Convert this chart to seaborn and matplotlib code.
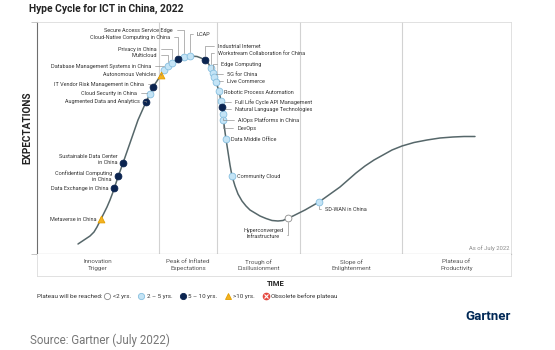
import matplotlib
matplotlib.use('Agg')
import matplotlib.pyplot as plt
from matplotlib.lines import Line2D
import pandas as pd
import seaborn as sns

sns.set_theme(style='white')
plt.rcParams['font.family'] = ['Roboto', 'DejaVu Sans']

# hype curve (time, expectations, arbitrary units)
curve_time = [41, 47, 53, 57, 60, 64, 67, 70, 73, 76, 81, 86, 93, 101, 109, 113,
              116, 120, 124, 127, 131, 135, 141, 147, 153, 160, 164, 168, 171,
              174, 176, 178, 180, 182, 184, 185, 186, 186.5, 188, 189, 191, 193,
              195, 198, 201, 205, 209, 213, 218, 223, 229, 235, 241, 246, 251,
              256, 262, 268, 275, 282, 289, 296, 303, 311, 319, 328, 337, 346,
              355, 365, 377, 390, 403, 416, 427, 438]
curve_expect = [10, 14, 18, 22, 27, 35, 41, 47, 54, 62, 77, 91, 111, 134, 152, 160,
                167, 173, 179, 184, 188, 191, 195, 197, 198, 197.5, 196, 194, 191,
                186, 181, 175, 169, 163, 153, 147, 140, 134, 122, 115, 102, 89,
                78, 68, 60, 53, 48, 44, 41, 38, 35.5, 33.5, 33, 33.5, 36,
                38, 41, 44, 48, 52, 57, 62, 67, 74, 81, 88, 94, 99,
                104, 108, 111.5, 114, 116, 117, 117.5, 117.5]

tech = ['Metaverse in China', 'Data Exchange in China',
        'Confidential Computing\nin China', 'Sustainable Data Center\nin China',
        'Augmented Data and Analytics', 'Cloud Security in China',
        'IT Vendor Risk Management in China', 'Autonomous Vehicles',
        'Database Management Systems in China', 'Multicloud', 'Privacy in China',
        'Cloud-Native Computing in China', 'Secure Access Service Edge', 'LCAP',
        'Industrial Internet', 'Workstream Collaboration for China', 'Edge Computing',
        '5G for China', 'Live Commerce', 'Robotic Process Automation',
        'Full Life Cycle API Management', 'Natural Language Technologies',
        'AIOps Platforms in China', 'DevOps', 'Data Middle Office', 'Community Cloud',
        'Hyperconverged\nInfrastructure', 'SD-WAN in China']
tech_time = [64, 77, 81, 86, 109, 113, 116, 124, 127, 131, 135, 141, 147, 153,
             168, 174, 176, 177, 179, 182, 184, 185, 186, 186.5, 189, 195, 251, 282]
tech_expect = [35, 66, 78, 91, 152, 160, 167, 179, 184, 188, 191, 195, 197, 198,
               194, 186, 181, 177, 172, 163, 153, 147, 140, 134, 115, 78, 36, 52]
plateau = ['>10', '5-10', '5-10', '5-10', '5-10', '2-5', '5-10', '>10', '2-5', '2-5',
           '2-5', '5-10', '2-5', '2-5', '5-10', '2-5', '2-5', '2-5', '2-5', '2-5',
           '2-5', '5-10', '2-5', '2-5', '2-5', '2-5', '<2', '2-5']

phase_edges = [0, 122, 180, 263, 365, 474]
phase_names = ['Innovation\nTrigger', 'Peak of Inflated\nExpectations',
               'Trough of\nDisillusionment', 'Slope of\nEnlightenment',
               'Plateau of\nProductivity']

legend_keys = ['<2', '2-5', '5-10', '>10']
legend_labels = ['<2 yrs.', '2 – 5 yrs.', '5 – 10 yrs.', '>10 yrs.', 'Obsolete before plateau']

# label offsets from the dot in pixels: dx, dy, alignment, leader line
label_layout = {
    'Metaverse in China': (-5, 0, 'right', False),
    'Data Exchange in China': (-5, 0, 'right', False),
    'Confidential Computing\nin China': (-6, 0, 'right', False),
    'Sustainable Data Center\nin China': (-5, 4, 'right', False),
    'Augmented Data and Analytics': (-6, 1, 'right', True),
    'Cloud Security in China': (-13, 1, 'right', True),
    'IT Vendor Risk Management in China': (-9, 3, 'right', True),
    'Autonomous Vehicles': (-5, 1, 'right', True),
    'Database Management Systems in China': (-13, 4, 'right', True),
    'Multicloud': (-11, 11, 'right', True),
    'Privacy in China': (-15, 14, 'right', True),
    'Cloud-Native Computing in China': (-8, 22, 'right', True),
    'Secure Access Service Edge': (-11, 27, 'right', True),
    'LCAP': (7, 22, 'left', True),
    'Industrial Internet': (13, 14, 'left', True),
    'Workstream Collaboration for China': (7, 15, 'left', True),
    'Edge Computing': (8, 9, 'left', True),
    '5G for China': (13, 3, 'left', True),
    'Live Commerce': (11, 1, 'left', True),
    'Robotic Process Automation': (5, -1, 'left', False),
    'Full Life Cycle API Management': (14, -1, 'left', True),
    'Natural Language Technologies': (13, -2, 'left', True),
    'AIOps Platforms in China': (15, -6, 'left', True),
    'DevOps': (14, -8, 'left', True),
    'Data Middle Office': (5, 0, 'left', False),
    'Community Cloud': (5, 0, 'left', False),
    'Hyperconverged\nInfrastructure': (-25, -15, 'center', True),
    'SD-WAN in China': (6, -7, 'left', True),
}

marker_style = {
    '<2': dict(marker='o', color='white', edgecolor='#8c8c8c'),
    '2-5': dict(marker='o', color='#c4e4f6', edgecolor='#86bfdf'),
    '5-10': dict(marker='o', color='#0b2450', edgecolor='#0b2450'),
    '>10': dict(marker='^', color='#f4b221', edgecolor='#e39f00'),
}

df = pd.DataFrame({'tech': tech, 'time': tech_time, 'expect': tech_expect,
                   'plateau': plateau})

W, H = 555, 350


def box(l, t, r, b):
    return [l / W, 1 - b / H, (r - l) / W, (b - t) / H]


fig = plt.figure(figsize=(W / 100, H / 100), dpi=100)
ax = fig.add_axes(box(37, 22, 511, 254))
ax.set_xlim(phase_edges[0], phase_edges[-1])
ax.set_ylim(0, 232)

for e in phase_edges[1:-1]:
    ax.axvline(e, color='#d2d2d2', lw=0.8, zorder=0)

sns.lineplot(x=curve_time, y=curve_expect, sort=False, estimator=None,
             color='#56676a', lw=1.1, ax=ax, zorder=2)

for key, st in marker_style.items():
    sub = df[df.plateau == key]
    sns.scatterplot(data=sub, x='time', y='expect', s=24, linewidth=0.6,
                    legend=False, ax=ax, zorder=3, **st)

for _, row in df.iterrows():
    dx, dy, ha, leader = label_layout[row.tech]
    arrow = None
    if leader:
        rel = {'right': (1, 0.5), 'left': (0, 0.5), 'center': (1, 0.3)}[ha]
        arrow = dict(arrowstyle='-', color='#8a8a8a', lw=0.45, shrinkA=0.8,
                     shrinkB=2.6, relpos=rel,
                     connectionstyle='angle,angleA=0,angleB=90,rad=0')
    ax.annotate(row.tech, (row.time, row.expect), xytext=(dx, dy),
                textcoords='offset pixels', ha=ha, va='center', fontsize=4.0,
                color='#333333', linespacing=1.25, arrowprops=arrow, zorder=4,
                multialignment=ha)

ax.text(0.996, 0.012, 'As of July 2022', transform=ax.transAxes, ha='right',
        va='bottom', fontsize=4.2, color='#8a8a8a')

ax.set_xlabel('')
ax.set_ylabel('')
ax.set_xticks([])
ax.set_yticks([0, 232])
ax.set_yticklabels([])
ax.tick_params(axis='y', left=True, length=4, width=0.6, color='#bdbdbd', pad=0)
for side in ['left', 'bottom']:
    ax.spines[side].set_color('#6e6e6e')
    ax.spines[side].set_linewidth(0.8)
for side in ['top', 'right']:
    ax.spines[side].set_color('#dcdcdc')
    ax.spines[side].set_linewidth(0.6)

# phase band under the curve
bx = fig.add_axes(box(37, 254, 511, 276))
bx.set_xlim(phase_edges[0], phase_edges[-1])
bx.set_ylim(0, 1)
bx.set_xticks([])
bx.set_yticks([])
for side in bx.spines:
    bx.spines[side].set_color('#dcdcdc')
    bx.spines[side].set_linewidth(0.6)
bx.spines['top'].set_visible(False)
for i, name in enumerate(phase_names):
    bx.text((phase_edges[i] + phase_edges[i + 1]) / 2, 0.5, name, ha='center',
            va='center', fontsize=4.5, color='#555555', linespacing=1.3)

fig.text(29 / W, 1 - 9 / H, 'Hype Cycle for ICT in China, 2022', fontsize=7.4,
         weight='bold', color='#222222', va='center')
fig.text(27 / W, 1 - 128 / H, 'EXPECTATIONS', rotation=90, fontsize=7.2,
         weight='bold', color='#222222', ha='center', va='center')
fig.text(276 / W, 1 - 283 / H, 'TIME', fontsize=5.5, weight='bold',
         color='#222222', ha='center', va='center')

# legend row
fig.text(37 / W, 1 - 296 / H, 'Plateau will be reached:', fontsize=4.5,
         color='#333333', va='center')
handles = []
for key in legend_keys:
    st = marker_style[key]
    handles.append(Line2D([], [], ls='', marker=st['marker'], mfc=st['color'],
                          mec=st['edgecolor'], ms=4.5, mew=0.6))
handles.append((Line2D([], [], ls='', marker='o', mfc='#e5483f', mec='#e5483f', ms=4.5),
                Line2D([], [], ls='', marker='x', color='white', ms=2.4, mew=0.8)))
fig.legend(handles, legend_labels, loc='center left',
           bbox_to_anchor=(104 / W, 1 - 296 / H), ncol=5, frameon=False,
           fontsize=4.5, handlelength=1.0, handletextpad=0.4, columnspacing=1.15,
           borderpad=0, borderaxespad=0, labelcolor='#333333')

fig.text(511 / W, 1 - 316 / H, 'Gartner', ha='right', va='center', fontsize=9.5,
         weight='bold', color='#002856')
fig.text(30 / W, 1 - 340 / H, 'Source: Gartner (July 2022)', fontsize=8.3,
         color='#777777', va='center')

fig.savefig('out.png', dpi=100)
